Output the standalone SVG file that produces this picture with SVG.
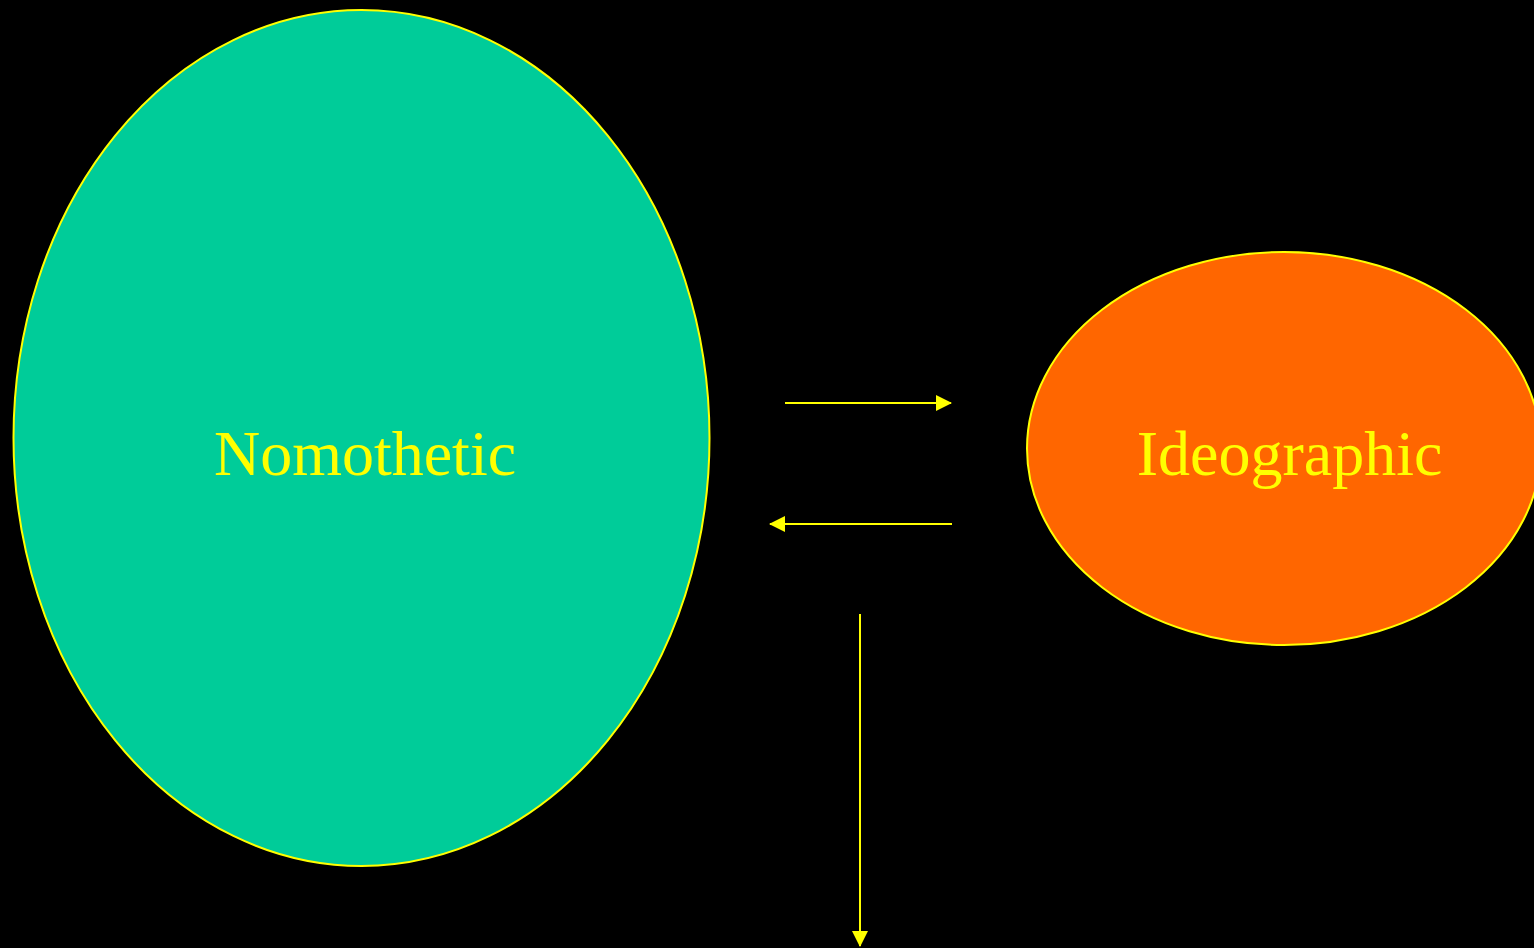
<svg xmlns="http://www.w3.org/2000/svg" width="1534" height="948" viewBox="0 0 1534 948">
<style>
.node{stroke:#ffff00;stroke-width:2}
.lbl{font-family:"Liberation Serif","Times New Roman",serif;font-size:64px;fill:#ffff00;text-anchor:middle}
.conn{stroke:#ffff00;stroke-width:2;fill:none}
</style>
<defs>
<marker id="ah" markerUnits="userSpaceOnUse" markerWidth="16" markerHeight="16" viewBox="0 0 16 16" refX="15" refY="8" orient="auto">
<path d="M0,0 L16,8 L0,16 Z" fill="#ffff00"/>
</marker>
</defs>
<rect width="1534" height="948" fill="#000"/>
<g id="nomothetic">
<ellipse class="node" cx="361.5" cy="438" rx="348" ry="428" fill="#00cc99"/>
<text class="lbl" x="365" y="475">Nomothetic</text>
</g>
<g id="ideographic">
<ellipse class="node" cx="1284" cy="448.5" rx="257" ry="196.5" fill="#ff6600"/>
<text class="lbl" x="1289.5" y="475">Ideographic</text>
</g>
<g id="connectors">
<line class="conn" x1="785" y1="403" x2="951" y2="403" marker-end="url(#ah)"/>
<line class="conn" x1="952" y1="524" x2="770" y2="524" marker-end="url(#ah)"/>
<line class="conn" x1="860" y1="614" x2="860" y2="946" marker-end="url(#ah)"/>
</g>
</svg>
